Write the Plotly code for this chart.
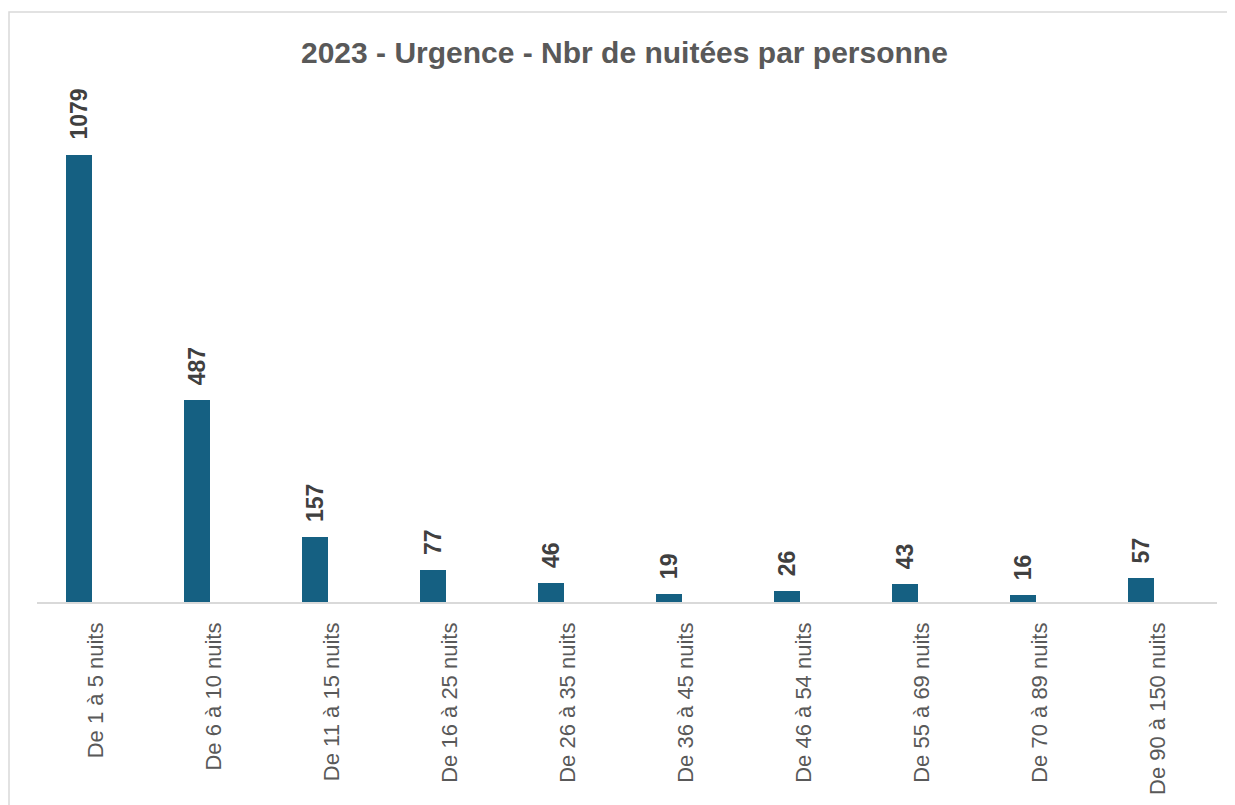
import plotly.graph_objects as go

categories = ["De 1 à 5 nuits", "De 6 à 10 nuits", "De 11 à 15 nuits", "De 16 à 25 nuits",
              "De 26 à 35 nuits", "De 36 à 45 nuits", "De 46 à 54 nuits", "De 55 à 69 nuits",
              "De 70 à 89 nuits", "De 90 à 150 nuits"]
values = [1079, 487, 157, 77, 46, 19, 26, 43, 16, 57]
title_text = "2023 - Urgence - Nbr de nuitées par personne"

BAR = "#156082"
W, H = 1235, 805
OFF = 8  # default page body margin
# plot area in screen pixels
SL, SR, ST, SB = 37, 1217, 105, 602
L, R, T, B = SL - OFF, W - (SR - OFF), ST - OFF, H - (SB - OFF)
pw, ph = SR - SL, SB - ST

def px_x(p):
    return (p - SL) / pw

def px_y(p):
    return (SB - p) / ph

FONT = "Liberation Sans, Arial, sans-serif"

fig = go.Figure()
fig.add_trace(go.Bar(
    x=categories, y=values, marker=dict(color=BAR, line=dict(width=0)),
    width=0.22, offset=-0.254, hoverinfo="x+y",
))

for c, v in zip(categories, values):
    fig.add_annotation(
        x=c, y=v, xref="x", yref="y", text=f"<b>{v}</b>", showarrow=False,
        textangle=-90, yanchor="bottom", xanchor="center", yshift=13, xshift=-17,
        font=dict(family=FONT, size=23, color="#404040"),
    )

fig.add_annotation(
    x=px_x(624), y=px_y(52), xref="paper", yref="paper", showarrow=False,
    text=f"<b>{title_text}</b>", xanchor="center", yanchor="middle",
    font=dict(family=FONT, size=30, color="#595959"),
)

fig.add_shape(type="rect", xref="paper", yref="paper",
              x0=px_x(9), x1=px_x(1260), y0=px_y(12), y1=px_y(830),
              line=dict(color="#D9D9D9", width=1.5), fillcolor="rgba(0,0,0,0)", layer="below")

fig.update_layout(
    width=W, height=H, margin=dict(l=L, r=R, t=T, b=B),
    paper_bgcolor="white", plot_bgcolor="white", showlegend=False,
    font=dict(family=FONT, color="#595959"),
    bargap=0,
)
fig.update_xaxes(
    type="category", range=[-0.5, 9.5], tickangle=-90, showgrid=False,
    showline=True, linecolor="#D9D9D9", linewidth=1.5, ticks="", ticklabelstandoff=10,
    tickfont=dict(size=22, color="#595959", family=FONT),
    fixedrange=True,
)
fig.update_yaxes(range=[0, 1200], visible=False, showgrid=False, zeroline=False, fixedrange=True)

fig.write_html("out.html")
